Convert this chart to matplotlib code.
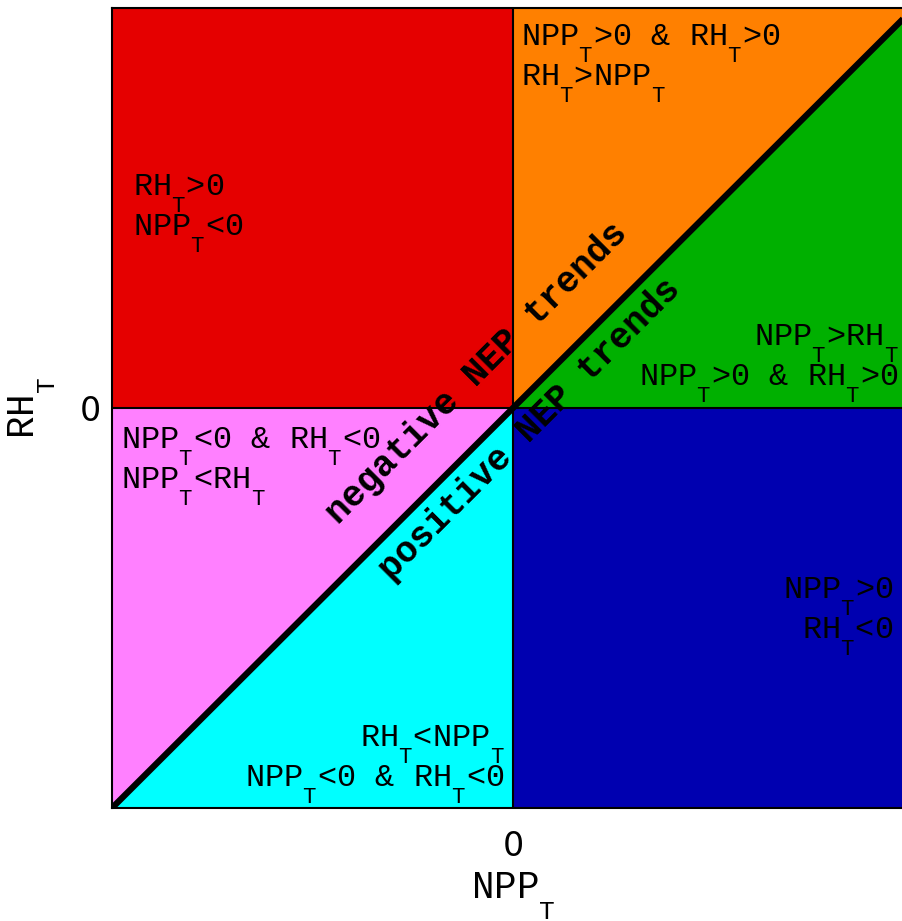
import matplotlib
matplotlib.use("Agg")
import matplotlib.pyplot as plt
from matplotlib import _mathtext

plt.rcParams["mathtext.fontset"] = "custom"
plt.rcParams["mathtext.rm"] = "Liberation Mono"
plt.rcParams["mathtext.it"] = "Liberation Mono"
plt.rcParams["mathtext.bf"] = "Liberation Mono:bold"
# the subscripts sit lower in the original
_mathtext.FontConstantsBase.sub1 = 1.0

NPP = r"NPP$_\mathrm{T}$"
RH = r"RH$_\mathrm{T}$"

lo, hi = -1, 1

colors = {
    "red": "#E50000",
    "orange": "#FF8000",
    "green": "#00B000",
    "blue": "#0000B0",
    "cyan": "#00FFFF",
    "pink": "#FF80FF",
}

region_labels = {
    "orange": f"{NPP}>0 & {RH}>0\n{RH}>{NPP}",
    "red": f"{RH}>0\n{NPP}<0",
    "green": f"{NPP}>{RH}\n{NPP}>0 & {RH}>0",
    "pink": f"{NPP}<0 & {RH}<0\n{NPP}<{RH}",
    "blue": f"{NPP}>0\n{RH}<0",
    "cyan": f"{RH}<{NPP}\n{NPP}<0 & {RH}<0",
}

fig = plt.figure(figsize=(9.03, 9.21), dpi=100)
ax = fig.add_axes([112 / 903, 113 / 921, 802 / 903, 800 / 921])

neg = [lo, 0]
pos = [0, hi]
ax.fill_between(neg, 0, hi, color=colors["red"], lw=0)
ax.fill_between(pos, pos, hi, color=colors["orange"], lw=0)
ax.fill_between(pos, 0, pos, color=colors["green"], lw=0)
ax.fill_between(neg, neg, 0, color=colors["pink"], lw=0)
ax.fill_between(neg, lo, neg, color=colors["cyan"], lw=0)
ax.fill_between(pos, lo, 0, color=colors["blue"], lw=0)

ax.axhline(0, color="black", lw=1.5)
ax.axvline(0, color="black", lw=1.5)
ax.plot([lo, hi], [lo, hi], color="black", lw=4.5, solid_capstyle="butt")

fs = 23
ls = 0.93
mono = "Liberation Mono"
kw = dict(fontsize=fs, family=mono, linespacing=ls, va="top")
ax.text(0.02, 0.965, region_labels["orange"], ha="left", **kw)
ax.text(-0.948, 0.59, region_labels["red"], ha="left", **kw)
ax.text(0.962, 0.215, region_labels["green"], ha="right", multialignment="right", **kw)
ax.text(-0.978, -0.0425, region_labels["pink"], ha="left", **kw)
ax.text(0.948, -0.4175, region_labels["blue"], ha="right", multialignment="right", **kw)
ax.text(-0.02, -0.7875, region_labels["cyan"], ha="right", multialignment="right", **kw)

ax.text(-0.09, 0.0875, "negative NEP trends", rotation=45, rotation_mode="anchor",
        ha="center", va="center", fontsize=26, family=mono, weight="bold")
ax.text(0.042, -0.0525, "positive NEP trends", rotation=45, rotation_mode="anchor",
        ha="center", va="center", fontsize=26, family=mono, weight="bold")

ax.set_xlim(lo, hi)
ax.set_ylim(lo, hi)
ax.set_xticks([0])
ax.set_yticks([0])
ax.tick_params(length=0, labelsize=24)
ax.tick_params(axis="x", pad=16)
ax.tick_params(axis="y", pad=8)
ax.set_xlabel(NPP, fontsize=27, family=mono, va="top")
ax.set_ylabel(RH, fontsize=27, family=mono, va="bottom")
ax.xaxis.set_label_coords(0.5, -0.077)
ax.yaxis.set_label_coords(-0.068, 0.5)
for s in ax.spines.values():
    s.set_linewidth(1.5)

fig.savefig("out.png", dpi=100)
